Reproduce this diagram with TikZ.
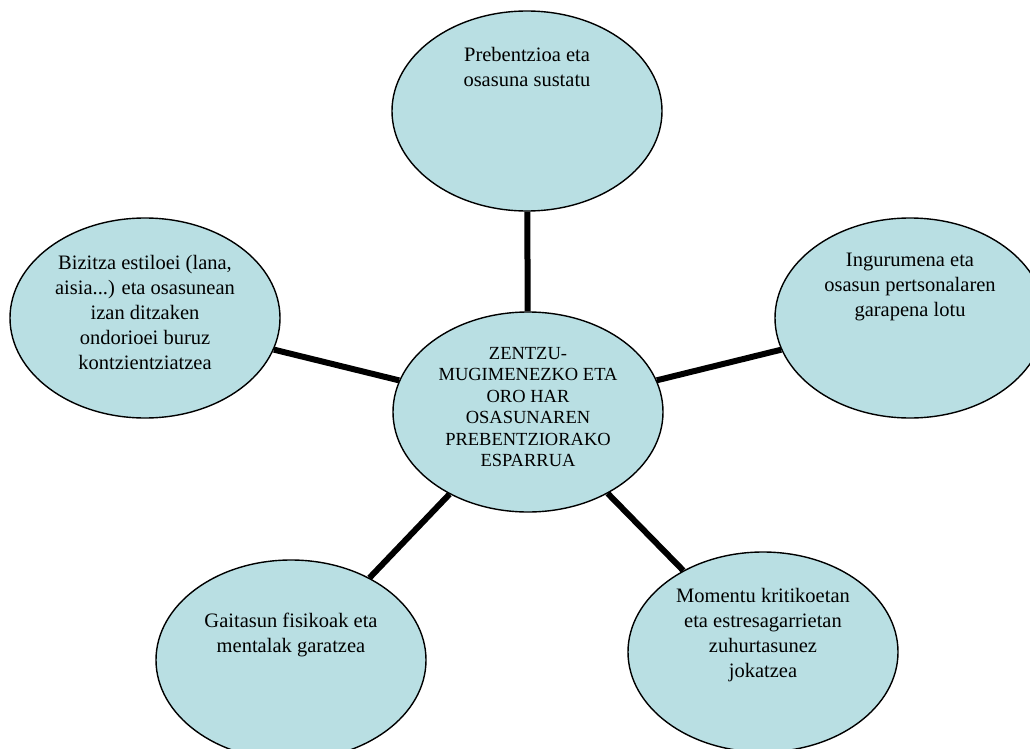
\documentclass[tikz,border=0pt]{standalone}
\usepackage{fontspec}
\setmainfont{Liberation Serif}
\usetikzlibrary{shapes.geometric}
\definecolor{bubblefill}{RGB}{185,223,227}
\tikzstyle{bubble}=[ellipse,draw,line width=1.4pt,fill=bubblefill,minimum width=270pt,minimum height=200pt,inner sep=0pt]
\tikzstyle{edge} = [draw,line width=6pt,-]
\tikzstyle{txt} = [align=center,inner sep=0pt,font=\fontsize{20.5}{25}\selectfont]
\tikzstyle{coretxt} = [align=center,inner sep=0pt,font=\fontsize{18.5}{21.5}\selectfont]

\begin{document}
\begin{tikzpicture}[x=1pt,y=-1pt]
        \useasboundingbox (0,0) rectangle (1030,749);
        \node[bubble] (core) at (528, 412) {};
        \node[bubble] (prev) at (527, 111) {};
        \node[bubble] (life) at (145, 318) {};
        \node[bubble] (env) at (910, 318) {};
        \node[bubble] (skill) at (291, 660) {};
        \node[bubble] (crisis) at (763, 652) {};
        \path[edge] (core) -- (prev);
        \path[edge] (core) -- (life);
        \path[edge] (core) -- (env);
        \path[edge] (core) -- (skill);
        \path[edge] (core) -- (crisis);
        \node[coretxt] (coretext) at (528, 407) {ZENTZU-\\MUGIMENEZKO ETA\\ORO HAR\\OSASUNAREN\\PREBENTZIORAKO\\ESPARRUA};
        \node[txt] (prevtext) at (527, 67) {Prebentzioa eta\\osasuna sustatu};
        \node[txt] (lifetext) at (145, 312) {Bizitza estiloei (lana,\\aisia...) eta osasunean\\izan ditzaken\\ondorioei buruz\\kontzientziatzea};
        \node[txt] (envtext) at (910, 287) {Ingurumena eta\\osasun pertsonalaren\\garapena lotu};
        \node[txt] (skilltext) at (291, 635) {Gaitasun fisikoak eta\\mentalak garatzea};
        \node[txt] (crisistext) at (763, 635) {Momentu kritikoetan\\eta estresagarrietan\\zuhurtasunez\\jokatzea};
    \end{tikzpicture}
\end{document}
